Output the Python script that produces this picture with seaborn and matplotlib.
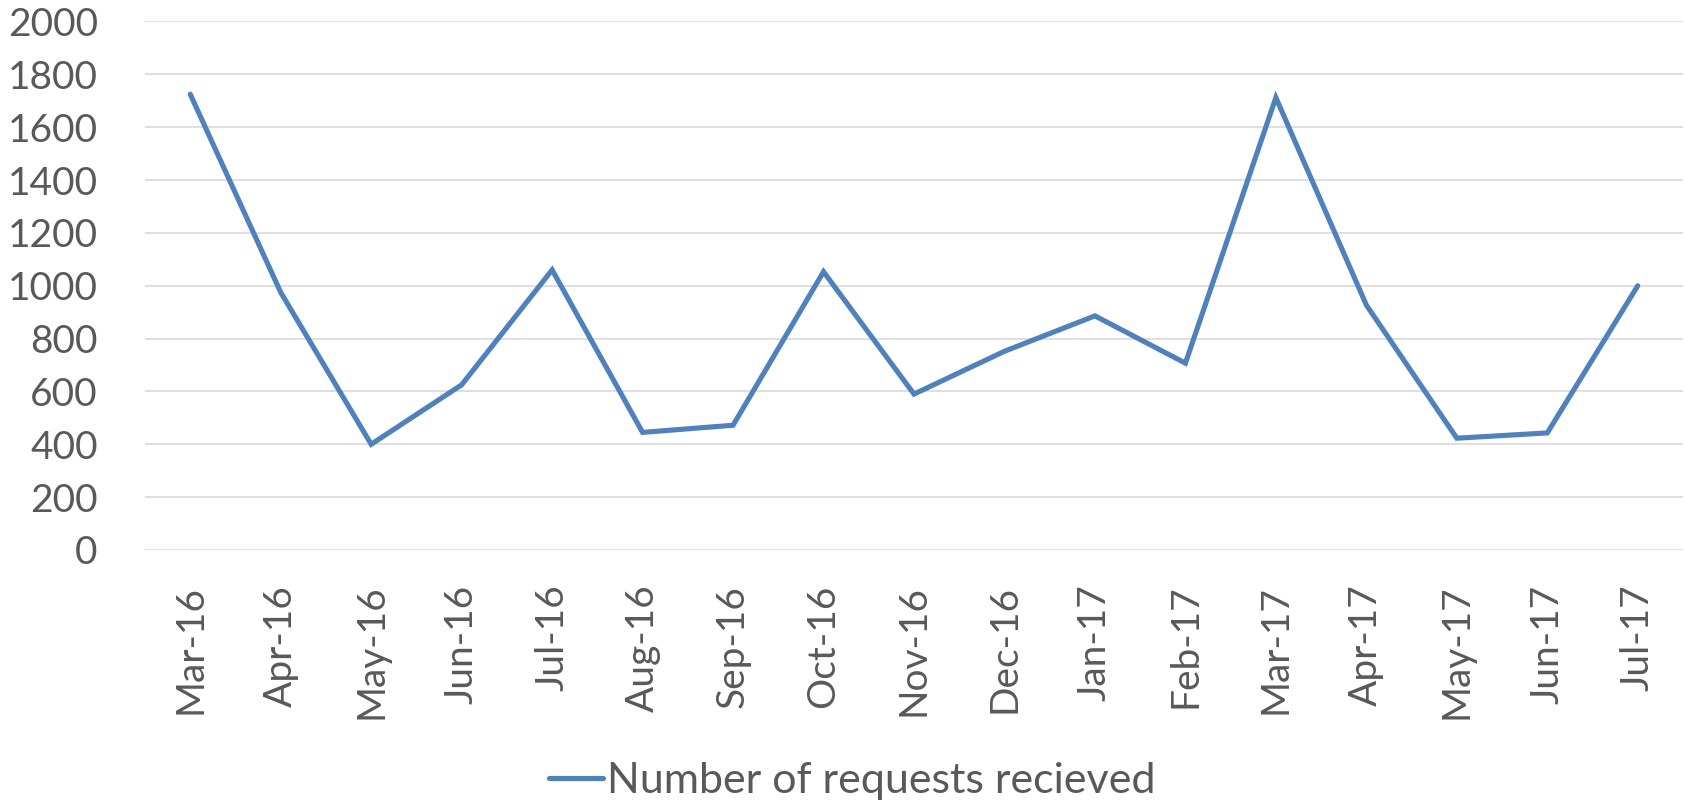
import numpy as np
import pandas as pd
import matplotlib
matplotlib.use("Agg")
import matplotlib.pyplot as plt
import seaborn as sns

# data
months = ["Mar-16", "Apr-16", "May-16", "Jun-16", "Jul-16", "Aug-16", "Sep-16",
          "Oct-16", "Nov-16", "Dec-16", "Jan-17", "Feb-17", "Mar-17", "Apr-17",
          "May-17", "Jun-17", "Jul-17"]
requests = [1725, 975, 400, 625, 1060, 445, 472, 1053, 590, 752, 886, 707,
            1712, 927, 423, 443, 1000]
y_ticks = [0, 200, 400, 600, 800, 1000, 1200, 1400, 1600, 1800, 2000]
series_name = "Number of requests recieved"

df = pd.DataFrame({"pos": np.arange(len(months)), "month": months, "requests": requests})

sns.set_style("white")
plt.rcParams["font.family"] = ["Lato", "DejaVu Sans"]
text_color = "#595959"

fig = plt.figure(figsize=(16.84, 8.05), dpi=100)
ax = fig.add_axes([0.0861, 0.3168, 0.9133, 0.6565])

sns.lineplot(data=df, x="pos", y="requests", ax=ax, color="#4F81BD",
             linewidth=3.7, label=series_name, solid_capstyle="round",
             solid_joinstyle="miter")

ax.set_xlim(-0.5, len(months) - 0.5)
ax.set_ylim(0, 2000)
ax.set_yticks(y_ticks)
ax.set_xticks(df["pos"])
ax.set_xticklabels(months, rotation=90)
ax.set_xlabel("")
ax.set_ylabel("")

for s in ax.spines.values():
    s.set_visible(False)
ax.yaxis.grid(True, color="#D9D9D9", linewidth=1.2)
ax.set_axisbelow(True)
ax.tick_params(axis="y", length=0, pad=34, labelsize=28, labelcolor=text_color)
ax.tick_params(axis="x", length=0, pad=25, labelsize=28, labelcolor=text_color)

ax.get_legend().remove()
leg = fig.legend(loc="center", bbox_to_anchor=(0.506, 0.0298), frameon=False,
                 handlelength=1.25, handletextpad=0.1, prop={"size": 31})
for t in leg.get_texts():
    t.set_color(text_color)

fig.savefig("out.png", dpi=100)
